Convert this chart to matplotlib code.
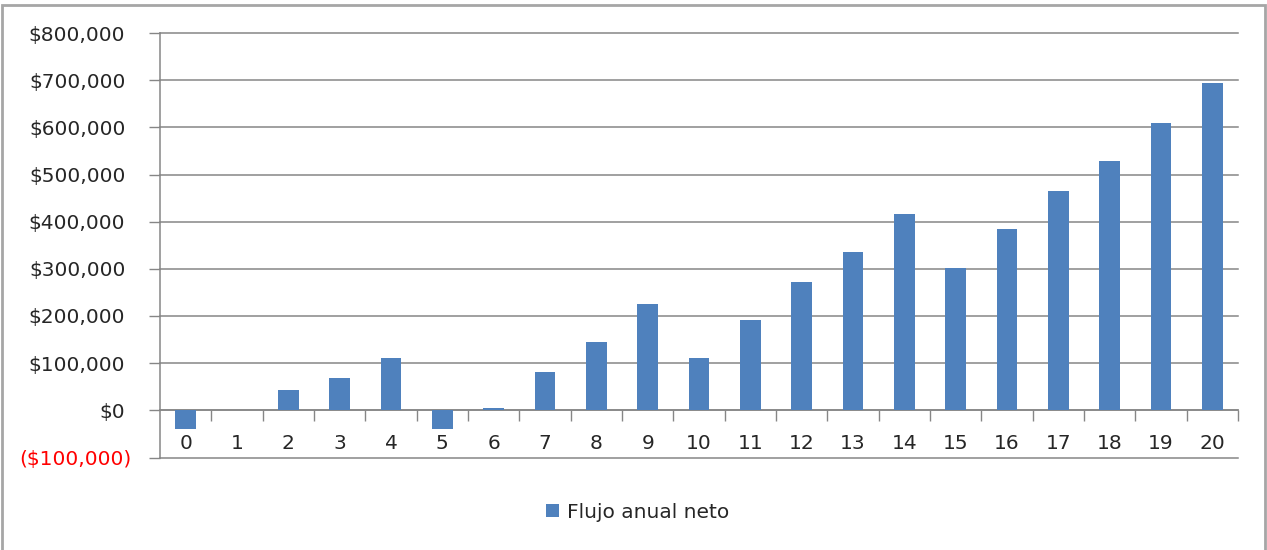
import matplotlib
matplotlib.use("Agg")
import matplotlib.pyplot as plt
from matplotlib.patches import Patch, Rectangle
from matplotlib.ticker import FuncFormatter, FixedLocator
import matplotlib.transforms as mtransforms

# Net annual cash flow by year
years = [str(i) for i in range(21)]
flujo = [-40000, 0, 43000, 68000, 111000, -40000, 5000, 81000, 145000, 226000,
         111000, 192000, 272000, 336000, 417000, 301000, 384000, 464000, 528000,
         609000, 694000]
series_name = "Flujo anual neto"
y_ticks = [-100000, 0, 100000, 200000, 300000, 400000, 500000, 600000, 700000, 800000]

BAR = "#4F81BD"
GRID = "#868686"
FS = 14.5

plt.rcParams["font.family"] = ["DejaVu Sans"]

fig = plt.figure(figsize=(12.67, 5.5), dpi=100)
ax = fig.add_axes([160 / 1267, 1 - 457.5 / 550, (1238 - 160) / 1267, (457.5 - 33) / 550])

x = list(range(len(years)))
ax.bar(x, flujo, width=0.4, color=BAR, zorder=3)

ax.set_xlim(-0.5, len(years) - 0.5)
ax.set_ylim(y_ticks[0], y_ticks[-1])

# y axis
ax.set_yticks(y_ticks)

def money(v, pos=None):
    if v < 0:
        return "(${:,.0f})".format(-v)
    return "${:,.0f}".format(v)

ax.yaxis.set_major_formatter(FuncFormatter(money))
ax.tick_params(axis="y", direction="out", length=8, width=1, color=GRID,
               labelsize=FS, pad=17)
for lbl, v in zip(ax.get_yticklabels(), y_ticks):
    if v < 0:
        lbl.set_color("#FF0000")
        lbl.set_transform(lbl.get_transform() +
                          mtransforms.ScaledTranslation(6 / 100, 0, fig.dpi_scale_trans))
    else:
        lbl.set_color("#262626")
ax.yaxis.grid(True, color=GRID, linewidth=1.1, zorder=0)
for gl in ax.yaxis.get_gridlines():
    gl.set_clip_on(False)

# x axis crossing at zero
ax.spines["bottom"].set_position(("data", 0))
ax.spines["bottom"].set_color(GRID)
ax.spines["bottom"].set_linewidth(1.1)
ax.spines["left"].set_color(GRID)
ax.spines["left"].set_linewidth(1.1)
ax.spines["top"].set_visible(False)
ax.spines["right"].set_visible(False)

ax.set_xticks(x)
ax.set_xticklabels(years)
ax.xaxis.set_minor_locator(FixedLocator([i + 0.5 for i in range(len(years))]))
ax.tick_params(axis="x", which="major", length=0, labelsize=FS, pad=17,
               labelcolor="#262626")
ax.tick_params(axis="x", which="minor", direction="out", length=8, width=1, color=GRID)

ax.set_axisbelow(True)

# legend
handle = Patch(facecolor=BAR, edgecolor="none", label=series_name)
fig.legend(handles=[handle], loc="center", bbox_to_anchor=(638 / 1267, 1 - 512 / 550),
           frameon=False, fontsize=FS, handlelength=0.65, handleheight=0.65,
           handletextpad=0.4, labelcolor="#262626")

# chart area frame
fig.patches.append(Rectangle((2 / 1267, -0.02), (1265 - 2) / 1267, 1 - 5 / 550 + 0.02,
                             transform=fig.transFigure, fill=False,
                             edgecolor="#A6A6A6", linewidth=2))

fig.savefig("out.png", dpi=100)
